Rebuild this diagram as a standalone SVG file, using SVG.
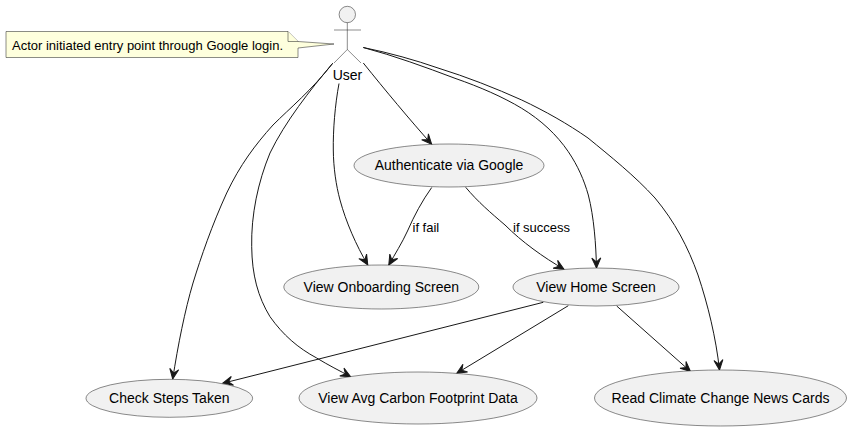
<svg xmlns="http://www.w3.org/2000/svg" width="851" height="430" viewBox="0 0 851 430">
<style>
text{font-family:"Liberation Sans",Arial,sans-serif;fill:#000}
.n{font-size:14px;text-anchor:middle}
.l{font-size:13px}
.u{fill:#F1F1F1;stroke:#181818;stroke-width:.5}
.e{fill:none;stroke:#181818;stroke-width:1}
.a{fill:none;stroke:#181818;stroke-width:.5}
</style>
<defs>
<marker id="h" markerUnits="userSpaceOnUse" markerWidth="16" markerHeight="16" refX="13" refY="8" orient="auto">
<path d="M13,8 L3,3.5 L7,8 L3,12.5 Z" fill="#181818" stroke="#181818" stroke-width="1"/>
</marker>
</defs>
<rect width="851" height="430" fill="#fff"/>
<g id="connectors">
<path class="e" marker-end="url(#h)" d="M363.3,63 C385,90 410,120 431.7,144.3"/>
<path class="e" marker-end="url(#h)" d="M339,83.5 C335,105 333,130 333.3,150 C333.5,168 336,185 340,200 C346,222 356,245 367.8,265"/>
<path class="e" marker-end="url(#h)" d="M431.7,187.5 C422,201 414,216 407.5,231 C402,243 395,254 388.8,265"/>
<path class="e" marker-end="url(#h)" d="M465.7,187.3 C478,202 491,213 505,225 C522,242 543,257 564,269.3"/>
<path class="e" marker-end="url(#h)" d="M363.3,47.5 C395,56 425,67 455,78.3 C480,87 503,97 521.7,108.3 C541,120 557,135 568.3,151.7 C578,166 584,180 588.3,195 C594,217 596,245 596.5,268"/>
<path class="e" marker-end="url(#h)" d="M363.3,47.5 C390,53 415,60 438,68 C467,77 495,88 521.7,100 C545,111 568,124 588,138 C610,156 635,176 655,198 C675,222 688,247 698,275 C708,305 716,338 719.5,370"/>
<path class="e" marker-end="url(#h)" d="M332.7,63.3 C312,90 290,108 273,125 C255,145 240,165 226.7,193 C212,225 201,257 193,283 C185,310 178,345 172.7,379"/>
<path class="e" marker-end="url(#h)" d="M332.7,63.3 C310,90 285,122 270,153 C258,182 251,215 251.7,246.7 C252,275 258,297 270,316.7 C283,335 298,348 316.7,358 C328,365 340,371 350.7,376.7"/>
<path class="e" marker-end="url(#h)" d="M543.3,302.3 L222.7,383.3"/>
<path class="e" marker-end="url(#h)" d="M568.3,305.7 L456.7,373.3"/>
<path class="e" marker-end="url(#h)" d="M616.7,306 L690.5,371.5"/>
<text class="l" x="412.5" y="232">if fail</text>
<text class="l" x="513" y="232">if success</text>
</g>
<g id="note">
<path d="M6,31.5 H288 L298,41.5 L334,44 L298,48 V57.5 H6 Z" fill="#FEFFDD" stroke="#181818" stroke-width=".5"/>
<path d="M288,31.5 V41.5 H298" fill="#FEFFDD" stroke="#181818" stroke-width=".5"/>
<text x="12" y="50" font-size="13">Actor initiated entry point through Google login.</text>
</g>
<g id="user">
<circle cx="347.3" cy="14.5" r="8.2" class="u"/>
<path class="a" d="M347.3,22.7 V49.5 M334,30 H361 M334,63 L347.3,49.5 L361,63"/>
<text class="n" x="347.5" y="80">User</text>
</g>
<g id="auth"><ellipse class="u" cx="449" cy="165.5" rx="95" ry="21.5"/><text class="n" x="449" y="170">Authenticate via Google</text></g>
<g id="onboarding"><ellipse class="u" cx="381.3" cy="287" rx="97.5" ry="22"/><text class="n" x="381.3" y="291.5">View Onboarding Screen</text></g>
<g id="home"><ellipse class="u" cx="596" cy="287" rx="83" ry="19"/><text class="n" x="596" y="291.5">View Home Screen</text></g>
<g id="steps"><ellipse class="u" cx="169.3" cy="398.3" rx="83.3" ry="19"/><text class="n" x="169.3" y="402.5">Check Steps Taken</text></g>
<g id="carbon"><ellipse class="u" cx="418" cy="398" rx="119" ry="26"/><text class="n" x="418" y="402.5">View Avg Carbon Footprint Data</text></g>
<g id="news"><ellipse class="u" cx="720.5" cy="398" rx="126" ry="28"/><text class="n" x="720.5" y="402.5">Read Climate Change News Cards</text></g>
</svg>
